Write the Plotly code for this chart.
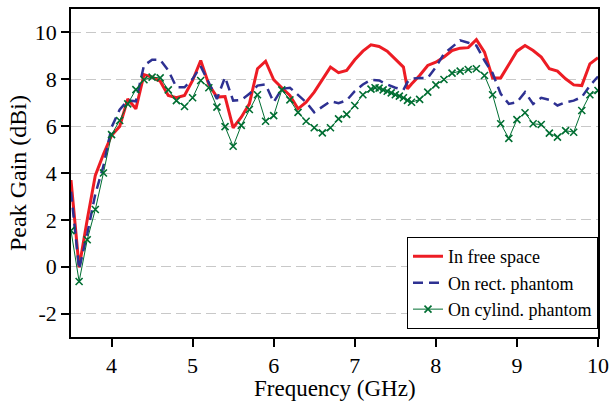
import plotly.graph_objects as go

freq_free = [3.5, 3.6, 3.7, 3.8, 3.9, 4.0, 4.1, 4.2, 4.3, 4.4, 4.5, 4.6, 4.7, 4.8, 4.9, 5.0,
             5.1, 5.2, 5.3, 5.4, 5.5, 5.6, 5.7, 5.8, 5.9, 6.0, 6.1, 6.2, 6.3, 6.4, 6.5, 6.6,
             6.7, 6.8, 6.9, 7.0, 7.1, 7.2, 7.3, 7.4, 7.5, 7.6, 7.65, 7.7, 7.8, 7.9, 8.0, 8.1,
             8.2, 8.3, 8.4, 8.5, 8.6, 8.7, 8.8, 8.9, 9.0, 9.1, 9.2, 9.3, 9.4, 9.5, 9.6, 9.7,
             9.8, 9.9, 10.0]
gain_free = [3.7, -0.03, 2.0, 3.9, 4.8, 5.6, 5.98, 7.16, 6.74, 8.2, 8.09, 7.92, 7.31, 7.21, 7.31, 7.95,
             8.8, 7.78, 7.24, 7.26, 5.93, 6.38, 6.95, 8.45, 8.77, 7.98, 7.64, 7.31, 6.74, 7.02, 7.45, 7.98,
             8.52, 8.28, 8.38, 8.83, 9.2, 9.47, 9.4, 9.2, 8.88, 8.52, 7.59, 7.8, 8.16, 8.59, 8.73, 8.95,
             9.23, 9.33, 9.35, 9.69, 9.16, 8.06, 8.06, 8.66, 9.2, 9.44, 9.23, 8.95, 8.45, 8.35, 8.02, 7.76,
             7.73, 8.66, 8.92]

freq_rect = [3.5, 3.6, 3.7, 3.8, 3.9, 4.0, 4.1, 4.2, 4.3, 4.4, 4.5, 4.6, 4.7, 4.8, 4.9, 5.0,
             5.1, 5.2, 5.3, 5.4, 5.5, 5.6, 5.7, 5.8, 5.9, 6.0, 6.1, 6.2, 6.3, 6.4, 6.5, 6.6,
             6.7, 6.8, 6.9, 7.0, 7.1, 7.2, 7.3, 7.4, 7.5, 7.6, 7.65, 7.7, 7.8, 7.9, 8.0, 8.1,
             8.2, 8.3, 8.4, 8.5, 8.6, 8.7, 8.8, 8.9, 9.0, 9.1, 9.2, 9.3, 9.4, 9.5, 9.6, 9.7,
             9.8, 9.9, 10.0]
gain_rect = [3.2, -0.1, 1.4, 3.1, 4.3, 5.95, 6.7, 7.1, 7.06, 8.59, 8.83, 8.83, 8.38, 7.66, 7.66, 8.02,
             8.55, 7.83, 7.16, 8.09, 7.09, 7.12, 7.38, 7.73, 7.78, 7.02, 7.59, 7.64, 7.31, 7.02, 6.59, 6.81,
             7.06, 6.98, 7.1, 7.49, 7.78, 7.98, 7.95, 7.78, 7.64, 7.55, 7.88, 8.02, 8.06, 8.06, 8.52, 9.09,
             9.37, 9.66, 9.56, 9.44, 8.8, 8.26, 7.38, 6.95, 7.02, 7.45, 6.95, 7.21, 7.12, 6.88, 7.02, 7.09,
             7.24, 7.73, 8.12]

freq_cyl = [3.5, 3.6, 3.7, 3.8, 3.9, 4.0, 4.1, 4.2, 4.3, 4.4, 4.5, 4.6, 4.7, 4.8, 4.9, 5.0,
            5.1, 5.2, 5.3, 5.4, 5.5, 5.6, 5.7, 5.8, 5.9, 6.0, 6.1, 6.2, 6.3, 6.4, 6.5, 6.6,
            6.7, 6.8, 6.9, 7.0, 7.1, 7.2, 7.25, 7.3, 7.35, 7.4, 7.45, 7.5, 7.55, 7.6, 7.65, 7.7,
            7.8, 7.9, 8.0, 8.1, 8.2, 8.3, 8.4, 8.5, 8.6, 8.7, 8.8, 8.9, 9.0, 9.1, 9.2, 9.3,
            9.4, 9.5, 9.6, 9.7, 9.8, 9.9, 10.0]
gain_cyl = [1.54, -0.63, 1.15, 2.44, 4.0, 5.64, 6.24, 6.95, 7.56, 7.98, 8.09, 8.06, 7.55, 7.09, 6.84, 7.21,
            7.95, 7.64, 6.81, 5.98, 5.14, 6.03, 6.71, 7.34, 6.21, 6.45, 7.55, 7.12, 6.59, 6.21, 5.93, 5.71,
            5.93, 6.31, 6.5, 6.88, 7.34, 7.58, 7.64, 7.62, 7.55, 7.49, 7.42, 7.34, 7.28, 7.21, 7.1, 7.02,
            7.14, 7.45, 7.76, 7.99, 8.26, 8.35, 8.42, 8.45, 8.16, 7.34, 6.1, 5.48, 6.28, 6.57, 6.1, 6.07,
            5.7, 5.53, 5.81, 5.74, 6.67, 7.34, 7.52]

x_ticks = [4, 5, 6, 7, 8, 9, 10]
y_ticks = [-2, 0, 2, 4, 6, 8, 10]
y_tick_text = ["-2", "0", "2", "4", "6", "8", "10"]
x_title = "Frequency (GHz)"
y_title = "Peak Gain (dBi)"

FONT = "Times New Roman, Liberation Serif, serif"

fig = go.Figure()
fig.add_trace(go.Scatter(x=freq_free, y=gain_free, mode="lines", name="In free space",
                         line=dict(color="rgb(237,28,36)", width=3)))
fig.add_trace(go.Scatter(x=freq_rect, y=gain_rect, mode="lines", name="On rect. phantom",
                         line=dict(color="rgb(46,49,146)", width=2.5, dash="10px,6px")))
fig.add_trace(go.Scatter(x=freq_cyl, y=gain_cyl, mode="lines+markers", name="On cylind. phantom",
                         line=dict(color="rgb(0,110,50)", width=1),
                         marker=dict(symbol="x-thin", size=7, color="rgb(0,110,50)",
                                     line=dict(color="rgb(0,110,50)", width=1.6))))

fig.update_layout(
    width=610, height=401,
    margin=dict(l=71, r=12, t=9, b=64),
    paper_bgcolor="white", plot_bgcolor="white",
    font=dict(family=FONT, color="black", size=22),
    showlegend=True,
    legend=dict(x=1, y=0.024, xanchor="right", yanchor="bottom",
                bgcolor="white", bordercolor="black", borderwidth=1,
                font=dict(family=FONT, size=18, color="black"), tracegroupgap=0,
                itemwidth=30),
    xaxis=dict(range=[3.5, 10], tickvals=x_ticks, ticks="outside", ticklen=8,
               tickcolor="black", tickwidth=1.5, automargin=False,
               showline=True, linecolor="black", linewidth=1.5, mirror=True,
               showgrid=False, zeroline=False,
               tickfont=dict(family=FONT, size=22, color="black")),
    yaxis=dict(range=[-3, 11], tickvals=y_ticks, ticktext=y_tick_text, ticks="outside", ticklen=8,
               tickcolor="black", tickwidth=1.5, automargin=False,
               showline=True, linecolor="black", linewidth=1.5, mirror=True,
               showgrid=True, gridcolor="rgb(200,200,200)", griddash="10px,5px", gridwidth=1,
               zeroline=False,
               tickfont=dict(family=FONT, size=22, color="black")),
    annotations=[
        dict(text=x_title, xref="paper", yref="paper", x=0.5, y=0, xanchor="center",
             yanchor="middle", yshift=-51, showarrow=False, borderpad=0,
             font=dict(family=FONT, size=23, color="black")),
        dict(text=y_title, xref="paper", yref="paper", x=0, y=0.5, xanchor="center",
             yanchor="middle", xshift=-53, textangle=-90, showarrow=False,
             font=dict(family=FONT, size=24, color="black")),
    ],
)

fig.write_html("out.html", config={"displayModeBar": False},
               post_script="document.body.style.margin='0';")
